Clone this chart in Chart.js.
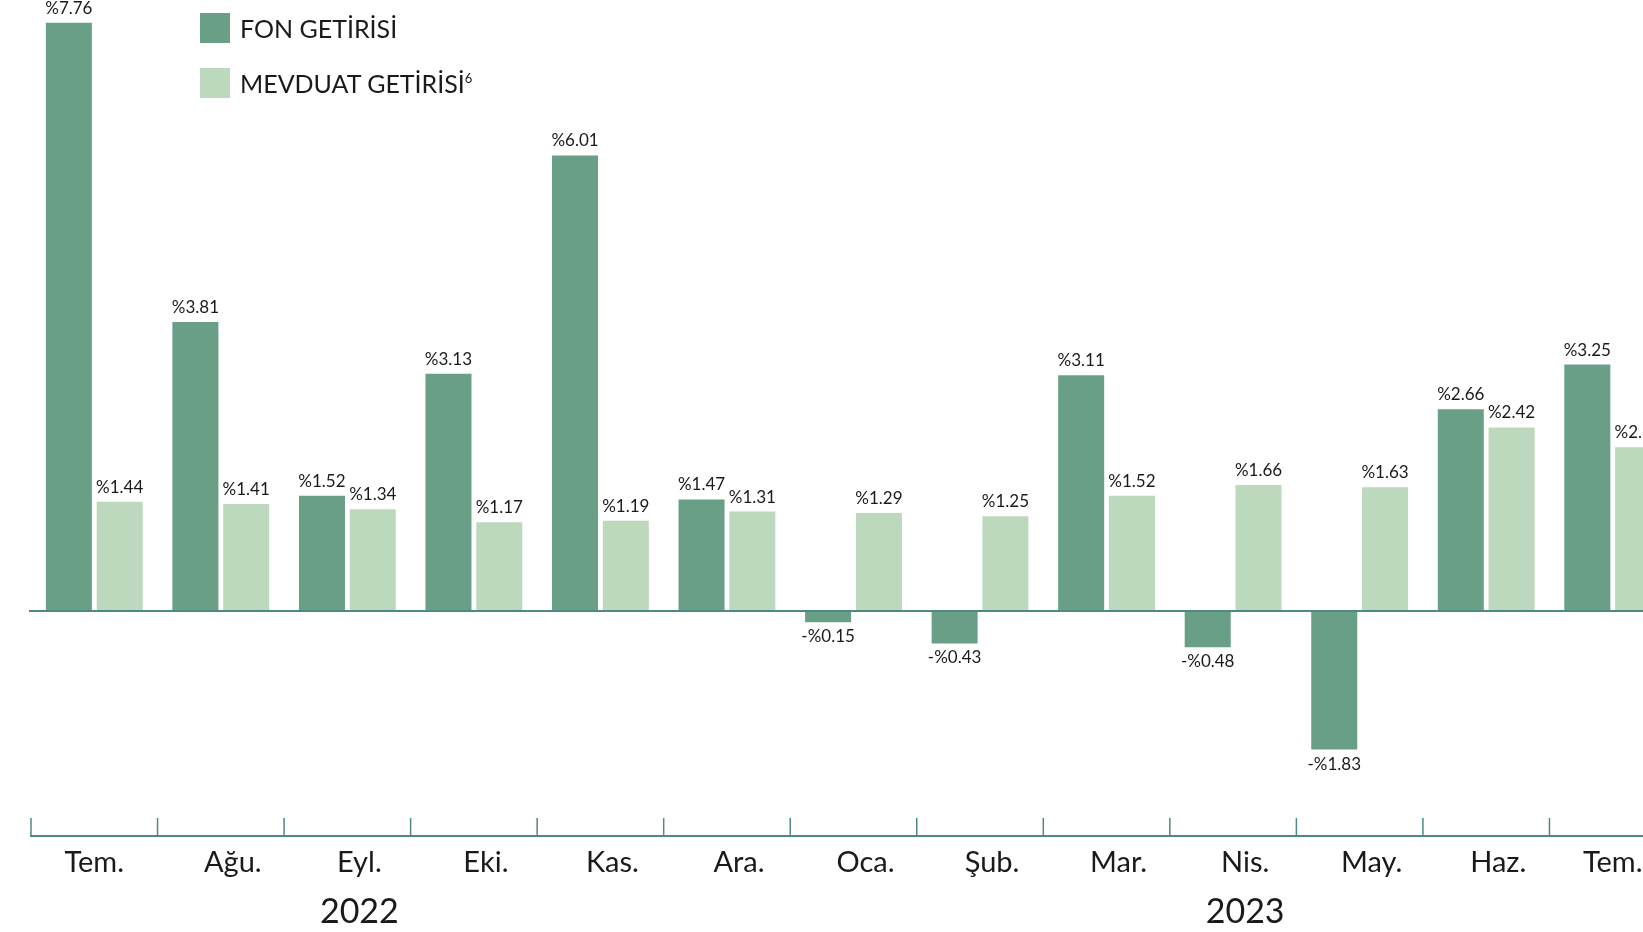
<!DOCTYPE html>
<html>
<head>
<meta charset="utf-8">
<script src="https://cdn.jsdelivr.net/npm/chart.js@4"></script>
<style>
  html, body { margin: 0; padding: 0; background: #fff; overflow: hidden; width: 1643px; height: 932px; }
  #wrap { position: absolute; left: 0; top: 0; width: 1678px; height: 932px; }
  .legend { position: absolute; left: 200px; font-family: Lato, sans-serif; font-size: 25px; color: #1a1a1a; }
  .legend .box { position: absolute; left: 0; width: 30px; height: 30px; }
  .legend span.txt { position: absolute; left: 40px; top: 0; white-space: nowrap; line-height: 30px; height: 30px; }
  .legend sup { font-size: 13px; line-height: 0; position: relative; top: -10px; vertical-align: baseline; }
</style>
</head>
<body>
<div id="wrap"><canvas id="barChart"></canvas></div>
<div class="legend" style="top:13px"><div class="box" style="background:#6a9f87"></div><span class="txt">FON GETİRİSİ</span></div>
<div class="legend" style="top:68px"><div class="box" style="background:#bcd8bd"></div><span class="txt">MEVDUAT GETİRİSİ<sup>6</sup></span></div>
<script>
const months = ["Tem.", "Ağu.", "Eyl.", "Eki.", "Kas.", "Ara.", "Oca.", "Şub.", "Mar.", "Nis.", "May.", "Haz.", "Tem."];
const fonGetirisi = [7.76, 3.81, 1.52, 3.13, 6.01, 1.47, -0.15, -0.43, 3.11, -0.48, -1.83, 2.66, 3.25];
const mevduatGetirisi = [1.44, 1.41, 1.34, 1.17, 1.19, 1.31, 1.29, 1.25, 1.52, 1.66, 1.63, 2.42, 2.16];
const years = ["2022", "2023"];
const yearIndex = [2, 9];

const axisColor = "#4d8a84";
const textColor = "#1a1a1a";

// inner month labels sit a little right of the category centre, first and last don't
function labelPos(i) {
    return (i === 0 || i === months.length - 1) ? i : i + 0.095;
}

// value labels, zero line, bottom axis with upward ticks, month and year labels
const decorations = {
    id: "decorations",
    afterDatasetsDraw(chart) {
        const ctx = chart.ctx;
        const x = chart.scales.x;
        const y = chart.scales.y;
        const area = chart.chartArea;
        ctx.save();

        // zero line
        const y0 = y.getPixelForValue(0);
        ctx.strokeStyle = axisColor;
        ctx.lineWidth = 2;
        ctx.beginPath();
        ctx.moveTo(area.left - 2, y0);
        ctx.lineTo(area.right, y0);
        ctx.stroke();

        // bottom axis
        ctx.beginPath();
        ctx.moveTo(area.left - 1, area.bottom);
        ctx.lineTo(area.right, area.bottom);
        ctx.stroke();
        ctx.lineWidth = 1.5;
        for (let i = 0; i <= months.length; i++) {
            const px = x.getPixelForValue(i - 0.5);
            ctx.beginPath();
            ctx.moveTo(px, area.bottom - 18);
            ctx.lineTo(px, area.bottom);
            ctx.stroke();
        }

        // value labels
        ctx.fillStyle = textColor;
        ctx.font = "17px Lato, sans-serif";
        ctx.textAlign = "center";
        chart.data.datasets.forEach((ds, di) => {
            const meta = chart.getDatasetMeta(di);
            meta.data.forEach((bar, i) => {
                const v = ds.data[i];
                const txt = (v < 0 ? "-%" : "%") + Math.abs(v).toFixed(2);
                if (v >= 0) {
                    ctx.textBaseline = "alphabetic";
                    ctx.fillText(txt, bar.x, bar.y - 9);
                } else {
                    ctx.textBaseline = "top";
                    ctx.fillText(txt, bar.x, bar.y + 6);
                }
            });
        });

        // month labels
        ctx.font = "29px Lato, sans-serif";
        ctx.textBaseline = "middle";
        months.forEach((m, i) => {
            ctx.fillText(m, x.getPixelForValue(labelPos(i)), 863);
        });

        // year labels, under Eyl. and Nis.
        ctx.font = "34px Lato, sans-serif";
        years.forEach((yr, i) => {
            ctx.fillText(yr, x.getPixelForValue(labelPos(yearIndex[i])), 912);
        });

        ctx.restore();
    }
};

const ctx = document.getElementById("barChart").getContext("2d");

new Chart(ctx, {
    type: "bar",
    data: {
        labels: months,
        datasets: [
            {
                label: "FON GETİRİSİ",
                data: fonGetirisi,
                backgroundColor: "#6a9f87",
                categoryPercentage: 0.803,
                barPercentage: 0.906
            },
            {
                label: "MEVDUAT GETİRİSİ",
                data: mevduatGetirisi,
                backgroundColor: "#bcd8bd",
                categoryPercentage: 0.803,
                barPercentage: 0.906
            }
        ]
    },
    options: {
        responsive: true,
        maintainAspectRatio: false,
        animation: false,
        layout: { padding: { left: 31, right: 2, top: 0, bottom: 96 } },
        plugins: {
            legend: { display: false },
            tooltip: { enabled: false }
        },
        scales: {
            x: { display: false },
            y: { display: false, min: -2.97, max: 8.06 }
        }
    },
    plugins: [decorations]
});
</script>
</body>
</html>
